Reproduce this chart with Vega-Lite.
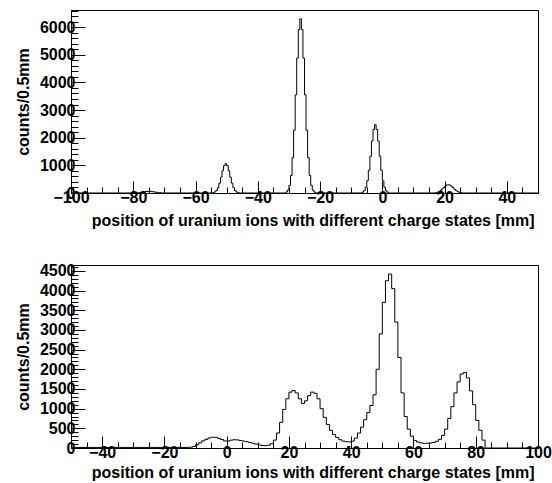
{
  "$schema": "https://vega.github.io/schema/vega-lite/v6.json",
  "background": "white",
  "padding": {"left": 14, "top": 2, "right": 5, "bottom": 2},
  "spacing": 29,
  "config": {
    "view": {"stroke": "black", "strokeWidth": 1},
    "axis": {
      "labelFont": "Liberation Sans", "labelFontWeight": "bold", "labelFontSize": 16, "labelColor": "black",
      "titleFont": "Liberation Sans", "titleFontWeight": "bold", "titleFontSize": 16, "titleColor": "black",
      "domainColor": "black", "tickColor": "black", "grid": false, "labelFlush": false, "labelOverlap": false
    }
  },
  "vconcat": [
    {
      "width": 467, "height": 183,
      "data": {"values": [
        {"x": -100, "c": 0}, {"x": -79, "c": 5}, {"x": -78, "c": 20}, {"x": -77, "c": 40}, {"x": -76, "c": 55}, {"x": -75, "c": 60}, {"x": -74, "c": 45}, {"x": -73, "c": 25}, {"x": -72, "c": 10}, {"x": -71, "c": 0},
        {"x": -54.5, "c": 13}, {"x": -54, "c": 37}, {"x": -53.5, "c": 90}, {"x": -53, "c": 191}, {"x": -52.5, "c": 354}, {"x": -52, "c": 572}, {"x": -51.5, "c": 805}, {"x": -51, "c": 990}, {"x": -50.5, "c": 1060}, {"x": -50, "c": 990}, {"x": -49.5, "c": 805}, {"x": -49, "c": 572}, {"x": -48.5, "c": 354}, {"x": -48, "c": 191}, {"x": -47.5, "c": 90}, {"x": -47, "c": 37}, {"x": -46.5, "c": 13}, {"x": -46, "c": 0},
        {"x": -31, "c": 36}, {"x": -30.5, "c": 106}, {"x": -30, "c": 277}, {"x": -29.5, "c": 634}, {"x": -29, "c": 1280}, {"x": -28.5, "c": 2270}, {"x": -28, "c": 3550}, {"x": -27.5, "c": 4880}, {"x": -27, "c": 5910}, {"x": -26.5, "c": 6300}, {"x": -26, "c": 5910}, {"x": -25.5, "c": 4880}, {"x": -25, "c": 3550}, {"x": -24.5, "c": 2270}, {"x": -24, "c": 1280}, {"x": -23.5, "c": 634}, {"x": -23, "c": 277}, {"x": -22.5, "c": 106}, {"x": -22, "c": 36}, {"x": -21.5, "c": 0},
        {"x": -6.5, "c": 30}, {"x": -6, "c": 86}, {"x": -5.5, "c": 210}, {"x": -5, "c": 445}, {"x": -4.5, "c": 825}, {"x": -4, "c": 1330}, {"x": -3.5, "c": 1880}, {"x": -3, "c": 2300}, {"x": -2.5, "c": 2470}, {"x": -2, "c": 2300}, {"x": -1.5, "c": 1880}, {"x": -1, "c": 1330}, {"x": -0.5, "c": 825}, {"x": 0, "c": 445}, {"x": 0.5, "c": 210}, {"x": 1, "c": 86}, {"x": 1.5, "c": 30}, {"x": 2, "c": 0},
        {"x": 17, "c": 13}, {"x": 17.5, "c": 27}, {"x": 18, "c": 52}, {"x": 18.5, "c": 89}, {"x": 19, "c": 137}, {"x": 19.5, "c": 194}, {"x": 20, "c": 247}, {"x": 20.5, "c": 286}, {"x": 21, "c": 300}, {"x": 21.5, "c": 286}, {"x": 22, "c": 247}, {"x": 22.5, "c": 194}, {"x": 23, "c": 137}, {"x": 23.5, "c": 89}, {"x": 24, "c": 52}, {"x": 24.5, "c": 27}, {"x": 25, "c": 13}, {"x": 25.5, "c": 0},
        {"x": 50, "c": 0}
      ]},
      "mark": {"type": "line", "interpolate": "step-after", "color": "black", "strokeWidth": 1, "clip": true},
      "encoding": {
        "x": {"field": "x", "type": "quantitative", "scale": {"domain": [-100, 50], "nice": false, "zero": false},
          "axis": {"title": "position of uranium ions with different charge states [mm]", "titleAnchor": "end", "titleX": 463,
            "values": [-100,-95,-90,-85,-80,-75,-70,-65,-60,-55,-50,-45,-40,-35,-30,-25,-20,-15,-10,-5,0,5,10,15,20,25,30,35,40,45,50],
            "labelExpr": "datum.value % 20 === 0 ? datum.label : ''",
            "tickSize": {"condition": {"test": "datum.value % 20 === 0", "value": -12}, "value": -6},
            "labelPadding": 8, "titlePadding": 1}},
        "y": {"field": "c", "type": "quantitative", "scale": {"domain": [0, 6620], "nice": false},
          "axis": {"title": "counts/0.5mm", "format": "d",
            "values": [0,200,400,600,800,1000,1200,1400,1600,1800,2000,2200,2400,2600,2800,3000,3200,3400,3600,3800,4000,4200,4400,4600,4800,5000,5200,5400,5600,5800,6000,6200,6400,6600],
            "labelExpr": "datum.value % 1000 === 0 ? datum.label : ''",
            "tickSize": {"condition": {"test": "datum.value % 1000 === 0", "value": -14}, "value": -7},
            "labelPadding": 10, "titlePadding": 8}}
      }
    },
    {
      "width": 467, "height": 183,
      "data": {"values": [
        {"x": -50, "c": 15}, {"x": -12, "c": 20}, {"x": -11, "c": 40}, {"x": -10, "c": 80}, {"x": -9, "c": 130}, {"x": -8, "c": 180}, {"x": -7, "c": 220}, {"x": -6, "c": 255}, {"x": -5, "c": 275}, {"x": -4, "c": 270}, {"x": -3, "c": 245}, {"x": -2, "c": 215}, {"x": -1, "c": 180}, {"x": 0, "c": 175}, {"x": 1, "c": 200}, {"x": 2, "c": 210}, {"x": 3, "c": 205}, {"x": 4, "c": 190}, {"x": 5, "c": 175}, {"x": 6, "c": 160}, {"x": 7, "c": 140}, {"x": 8, "c": 120}, {"x": 9, "c": 100}, {"x": 10, "c": 80}, {"x": 11, "c": 65}, {"x": 12, "c": 60}, {"x": 13, "c": 70}, {"x": 14, "c": 110}, {"x": 15, "c": 200}, {"x": 16, "c": 380}, {"x": 17, "c": 650}, {"x": 18, "c": 980}, {"x": 19, "c": 1250}, {"x": 20, "c": 1420}, {"x": 21, "c": 1460}, {"x": 22, "c": 1400}, {"x": 23, "c": 1250}, {"x": 24, "c": 1130}, {"x": 25, "c": 1200}, {"x": 26, "c": 1330}, {"x": 27, "c": 1420}, {"x": 28, "c": 1390}, {"x": 29, "c": 1250}, {"x": 30, "c": 1000}, {"x": 31, "c": 780}, {"x": 32, "c": 600}, {"x": 33, "c": 450}, {"x": 34, "c": 340}, {"x": 35, "c": 270}, {"x": 36, "c": 210}, {"x": 37, "c": 175}, {"x": 38, "c": 160}, {"x": 39, "c": 155}, {"x": 40, "c": 175}, {"x": 41, "c": 250}, {"x": 42, "c": 380}, {"x": 43, "c": 530}, {"x": 44, "c": 720}, {"x": 45, "c": 900}, {"x": 46, "c": 1080}, {"x": 47, "c": 1350}, {"x": 48, "c": 2000}, {"x": 49, "c": 2900}, {"x": 50, "c": 3700}, {"x": 51, "c": 4250}, {"x": 52, "c": 4420}, {"x": 53, "c": 4050}, {"x": 54, "c": 3200}, {"x": 55, "c": 2300}, {"x": 56, "c": 1400}, {"x": 57, "c": 800}, {"x": 58, "c": 480}, {"x": 59, "c": 300}, {"x": 60, "c": 190}, {"x": 61, "c": 150}, {"x": 62, "c": 130}, {"x": 63, "c": 120}, {"x": 64, "c": 120}, {"x": 65, "c": 125}, {"x": 66, "c": 140}, {"x": 67, "c": 170}, {"x": 68, "c": 220}, {"x": 69, "c": 320}, {"x": 70, "c": 480}, {"x": 71, "c": 750}, {"x": 72, "c": 1050}, {"x": 73, "c": 1400}, {"x": 74, "c": 1680}, {"x": 75, "c": 1880}, {"x": 76, "c": 1920}, {"x": 77, "c": 1780}, {"x": 78, "c": 1450}, {"x": 79, "c": 1100}, {"x": 80, "c": 700}, {"x": 81, "c": 450}, {"x": 82, "c": 200}, {"x": 83, "c": 0}, {"x": 100, "c": 0}
      ]},
      "mark": {"type": "line", "interpolate": "step-after", "color": "black", "strokeWidth": 1, "clip": true},
      "encoding": {
        "x": {"field": "x", "type": "quantitative", "scale": {"domain": [-50, 100], "nice": false, "zero": false},
          "axis": {"title": "position of uranium ions with different charge states [mm]", "titleAnchor": "end", "titleX": 463,
            "values": [-50,-45,-40,-35,-30,-25,-20,-15,-10,-5,0,5,10,15,20,25,30,35,40,45,50,55,60,65,70,75,80,85,90,95,100],
            "labelExpr": "(datum.value + 40) % 20 === 0 ? datum.label : ''",
            "tickSize": {"condition": {"test": "datum.value % 20 === 0", "value": -12}, "value": -6},
            "labelPadding": 8, "titlePadding": -2}},
        "y": {"field": "c", "type": "quantitative", "scale": {"domain": [0, 4650], "nice": false},
          "axis": {"title": "counts/0.5mm", "format": "d",
            "values": [0,100,200,300,400,500,600,700,800,900,1000,1100,1200,1300,1400,1500,1600,1700,1800,1900,2000,2100,2200,2300,2400,2500,2600,2700,2800,2900,3000,3100,3200,3300,3400,3500,3600,3700,3800,3900,4000,4100,4200,4300,4400,4500,4600],
            "labelExpr": "datum.value % 500 === 0 ? datum.label : ''",
            "tickSize": {"condition": {"test": "datum.value % 500 === 0", "value": -14}, "value": -7},
            "labelPadding": 10, "titlePadding": 8}}
      }
    }
  ]
}
